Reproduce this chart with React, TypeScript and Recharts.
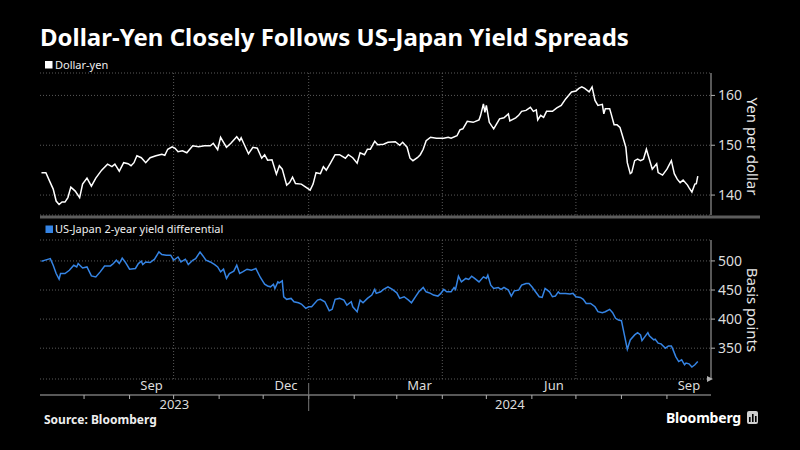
import React from 'react';
import { LineChart, Line, XAxis, YAxis, CartesianGrid, ReferenceLine } from 'recharts';

const FONT = '"Noto Sans", "DejaVu Sans", sans-serif';

// x values: days since 2023-07-01
const usdjpyDays = [2,5,8,10,12,14,16,18,20,22,25,28,30,33,36,39,43,47,50,52,55,58,61,63,65,67,70,73,76,80,84,86,88,91,93,95,98,101,105,109,113,117,119,122,124,126,128,131,135,137,138,140,143,146,149,152,154,156,159,162,164,166,169,171,173,175,179,183,185,187,189,192,194,196,199,202,205,209,211,214,217,219,222,224,226,229,231,235,238,243,246,248,251,253,255,258,260,262,264,267,271,276,279,281,285,287,289,292,296,300,301,303,304,305,307,310,312,314,317,320,321,325,327,329,332,335,337,339,340,342,344,346,350,353,356,359,361,363,366,368,370,372,375,377,379,381,384,385,386,389,390,392,394,396,398,400,401,403,404,406,408,410,412,414,416,418,421,422,425,428,431,433,435,437,439,442,443,445,447,448,449];
const usdjpyValues = [144.5,144.5,142.5,141.2,138.8,138.1,138.6,138.6,139.5,141.6,140.8,139.5,142.2,143.4,141.8,143.4,145.0,146.2,145.7,146.2,144.8,146.5,146.3,145.9,146.5,147.9,147.5,146.5,147.5,147.9,148.2,148.0,149.2,149.7,149.4,148.7,148.9,148.5,149.9,149.7,149.9,149.9,150.4,149.1,151.6,150.6,149.6,150.4,151.7,150.9,151.5,150.2,148.3,149.6,149.4,147.4,148.1,147.0,147.1,144.2,145.9,145.2,142.0,142.5,143.6,142.3,142.2,141.4,141.0,142.2,144.5,144.3,145.7,145.0,146.5,148.1,148.1,147.4,148.1,147.5,146.4,148.5,148.1,149.2,149.2,150.8,150.1,150.2,150.6,150.7,150.0,150.6,149.6,147.4,146.9,147.5,148.1,149.2,150.9,151.6,151.4,151.4,151.6,151.4,151.9,153.1,153.3,154.8,154.6,155.1,155.9,158.3,156.6,158.0,154.6,153.3,154.3,155.3,155.5,156.3,154.9,155.5,156.0,156.8,157.0,157.6,156.8,157.1,155.1,156.0,155.6,156.8,156.8,157.5,158.0,159.3,160.0,160.7,160.9,161.4,161.7,161.4,160.7,161.7,159.0,158.0,158.2,156.3,157.3,157.3,156.3,154.1,154.1,153.6,151.6,149.6,146.5,144.3,144.5,146.9,147.2,146.9,147.2,149.2,147.2,145.2,146.3,144.5,144.0,145.2,146.9,144.3,143.2,142.5,143.0,142.0,141.5,140.6,142.2,142.3,143.8];

const spreadDays = [2,4,8,10,12,14,15,18,21,24,26,27,30,33,36,39,42,45,49,51,53,55,57,59,62,66,68,70,71,73,76,79,82,84,87,90,92,95,97,100,102,105,107,110,112,114,117,120,122,124,126,128,130,133,135,137,139,142,145,148,151,153,154,156,158,160,161,163,164,166,167,169,172,174,177,179,182,184,186,190,192,195,198,200,202,205,208,210,213,214,217,219,221,224,227,229,230,233,235,238,241,244,246,249,252,254,257,259,262,264,267,269,272,274,276,278,281,283,284,286,288,291,293,295,297,300,303,305,306,308,310,313,315,317,320,322,324,327,329,332,334,336,339,341,343,345,348,350,352,354,355,359,362,364,366,369,371,373,376,379,381,384,386,389,391,393,395,397,399,401,403,406,408,410,411,413,415,416,419,420,422,424,427,429,431,432,434,436,438,440,441,443,445,447,449];
const spreadValues = [499.5,501,504,492.6,478.4,468.7,478.4,478.4,484,492.6,489.7,495.5,488,489.7,474.3,472.6,481.2,491.4,491.4,495.5,501.2,495.5,505,498.3,485.8,487,495.5,499.5,493.8,498.3,497.2,503,515.4,511,509.8,509.8,501.2,506.8,498.3,503,493.8,501.2,504,515.4,508.6,501.2,498.3,493.8,489.7,481.2,485.8,469.9,478.4,482.4,492.6,478.4,481.2,485.8,484,487,472,464,460,457,455.5,460,452.7,464,462.3,465.8,438.4,434,435.6,429.8,428.1,425.9,418.5,421.2,421.2,432.7,434,429.8,414.4,416.8,434,435.6,432.7,424.1,429.8,421.2,412.7,432.7,428.1,435.6,441.3,451,444.2,446.9,451,455.5,451,445.2,435.6,438.4,432.7,428.1,439.6,446.9,454.4,446.9,444.2,441.3,439.6,444.2,451,446.9,446.9,454.4,451,473.8,464,469.9,468.2,473.8,469.9,464,472.6,469.9,475.5,458.4,452.7,454.4,451,454.4,449.8,439.6,448.6,449.8,458.4,461.3,461.3,455.5,445.2,438.4,437.3,452.7,446.9,438.4,439.6,446.9,444.2,444.2,443,444.2,438.4,437.3,434,427,427,421.2,412.7,411,412.7,416.8,411,401.4,398.5,397.3,372.8,348.3,364.2,372.8,376.7,372.8,363,369.9,376.7,371.1,364.2,365.4,358.6,357.4,350,353.9,353.9,348.3,335.6,327,330,321.4,324.3,323.1,317.5,321.4,327];

const xDomain = [1, 458];
const monthStartDays = [31, 62, 92, 123, 153, 184, 215, 244, 275, 305, 336, 366, 397, 428];
const quarterDays = [92, 184, 275, 366];
const monthLabelDays = [77, 168.5, 259.5, 351, 443];
const monthLabels = ['Sep', 'Dec', 'Mar', 'Jun', 'Sep'];
const yearTickDays = [92.5, 184, 321];
const yearTickLabels = ['2023', '', '2024'];
const yearDividerDay = 184;
const yenTicks = [140, 150, 160];
const yenDomain = [136, 164.5];
const bpTicks = [350, 400, 450, 500];
const bpDomain = [297, 536];

const usdjpyData = usdjpyDays.map((d, i) => ({ d, v: usdjpyValues[i] }));
const spreadData = spreadDays.map((d, i) => ({ d, v: spreadValues[i] }));

const GRID = '#5a5a5a';
const AXIS = '#b0b0b0';
const TICKTXT = '#dcdcdc';

const EmptyTick = () => <g />;

const MonthTick = (props: any) => {
  const { x, y, payload } = props;
  const label = monthLabels[monthLabelDays.indexOf(payload.value)];
  return (
    <text x={x} y={y} dy="0.71em" textAnchor="middle" fill={TICKTXT} fontSize={13} fontFamily={FONT}>
      {label}
    </text>
  );
};

const YearTick = (props: any) => {
  const { x, y, payload } = props;
  if (payload.value === yearDividerDay) {
    return <line x1={x} x2={x} y1={y - 17} y2={y + 11} stroke="#777" strokeWidth={1} />;
  }
  const label = yearTickLabels[yearTickDays.indexOf(payload.value)];
  return (
    <text x={x} y={y} dy="0.71em" textAnchor="middle" fill={TICKTXT} fontSize={13} fontFamily={FONT}>
      {label}
    </text>
  );
};

export default function App() {
  return (
    <div style={{ position: 'absolute', left: 0, top: 0, width: 800, height: 450, background: '#000', overflow: 'hidden', fontFamily: FONT }}>
      <div style={{ position: 'absolute', left: 0, top: 0 }}>
        <LineChart width={800} height={450} data={usdjpyData} margin={{ top: 73, right: 9, bottom: 235, left: 40 }}>
          <CartesianGrid vertical={false} stroke={GRID} strokeDasharray="1 2" />
          <XAxis dataKey="d" type="number" domain={xDomain} hide allowDataOverflow />
          <YAxis
            orientation="right"
            domain={yenDomain}
            ticks={yenTicks}
            width={80}
            interval={0}
            allowDataOverflow
            axisLine={{ stroke: AXIS }}
            tickLine={{ stroke: AXIS }}
            tickSize={4}
            tickMargin={3}
            tick={{ fill: TICKTXT, fontSize: 14 }}
          />
          {quarterDays.map((q) => (
            <ReferenceLine key={q} x={q} stroke={GRID} strokeDasharray="1 2" />
          ))}
          <Line dataKey="v" stroke="#ffffff" strokeWidth={1.5} dot={false} isAnimationActive={false} />
        </LineChart>
      </div>
      <div style={{ position: 'absolute', left: 0, top: 0 }}>
        <LineChart width={800} height={450} data={spreadData} margin={{ top: 240, right: 9, bottom: 33, left: 40 }}>
          <CartesianGrid xAxisId="m" vertical={false} stroke={GRID} strokeDasharray="1 2" />
          <XAxis
            xAxisId="m"
            dataKey="d"
            type="number"
            domain={xDomain}
            allowDataOverflow
            ticks={monthStartDays}
            interval={0}
            height={4}
            tickSize={4}
            tick={EmptyTick}
            axisLine={{ stroke: AXIS }}
            tickLine={{ stroke: AXIS }}
          />
          <XAxis
            xAxisId="lbl"
            dataKey="d"
            type="number"
            domain={xDomain}
            allowDataOverflow
            ticks={monthLabelDays}
            interval={0}
            height={16}
            tickSize={0}
            tickMargin={2}
            axisLine={false}
            tickLine={false}
            tick={MonthTick}
          />
          <XAxis
            xAxisId="yr"
            dataKey="d"
            type="number"
            domain={xDomain}
            allowDataOverflow
            ticks={yearTickDays}
            interval={0}
            height={18}
            tickSize={0}
            tickMargin={1}
            axisLine={false}
            tickLine={false}
            tick={YearTick}
          />
          <YAxis
            orientation="right"
            domain={bpDomain}
            ticks={bpTicks}
            width={80}
            interval={0}
            allowDataOverflow
            axisLine={{ stroke: AXIS }}
            tickLine={{ stroke: AXIS }}
            tickSize={4}
            tickMargin={3}
            tick={{ fill: TICKTXT, fontSize: 14 }}
          />
          {quarterDays.map((q) => (
            <ReferenceLine key={q} xAxisId="m" x={q} stroke={GRID} strokeDasharray="1 2" />
          ))}
          <Line xAxisId="m" dataKey="v" stroke="#3584e4" strokeWidth={1.5} dot={false} isAnimationActive={false} />
        </LineChart>
      </div>
      <svg width={800} height={450} style={{ position: 'absolute', left: 0, top: 0, pointerEvents: 'none' }}>
        <text x={40} y={46} fill="#fff" fontSize={24} fontWeight={700} fontFamily={FONT}>
          Dollar-Yen Closely Follows US-Japan Yield Spreads
        </text>
        <rect x={45} y={61} width={7.5} height={7.5} fill="#fff" />
        <text x={55} y={68.5} fill="#eee" fontSize={11} fontFamily={FONT}>Dollar-yen</text>
        <rect x={45.5} y={225.5} width={7.5} height={7.5} fill="#3584e4" />
        <text x={55} y={233} fill="#eee" fontSize={11} fontFamily={FONT}>US-Japan 2-year yield differential</text>
        <line x1={40} x2={760} y1={217} y2={217} stroke="#5c5c5c" strokeWidth={3} />
        <text x={747} y={146.5} fill="#e6e6e6" fontSize={15} fontFamily={FONT} textAnchor="middle" transform="rotate(90 747 146.5)">Yen per dollar</text>
        <text x={747} y={310} fill="#e6e6e6" fontSize={15} fontFamily={FONT} textAnchor="middle" transform="rotate(90 747 310)">Basis points</text>
        <polygon points="707,376 713,379 707,382" fill={AXIS} />
        <text x={44} y={424} fill="#eee" fontSize={12} fontWeight={700} fontFamily={FONT}>Source: Bloomberg</text>
        <text x={741} y={423} fill="#fff" fontSize={14} fontWeight={700} fontFamily={FONT} textAnchor="end" letterSpacing={-0.2}>Bloomberg</text>
        <rect x={747} y={411} width={11} height={13} rx={2} fill="#cfcfcf" />
        <rect x={749} y={417} width={1.6} height={5} fill="#000" />
        <rect x={752} y={414} width={1.6} height={8} fill="#000" />
        <rect x={755} y={416} width={1.6} height={6} fill="#000" />
      </svg>
    </div>
  );
}
